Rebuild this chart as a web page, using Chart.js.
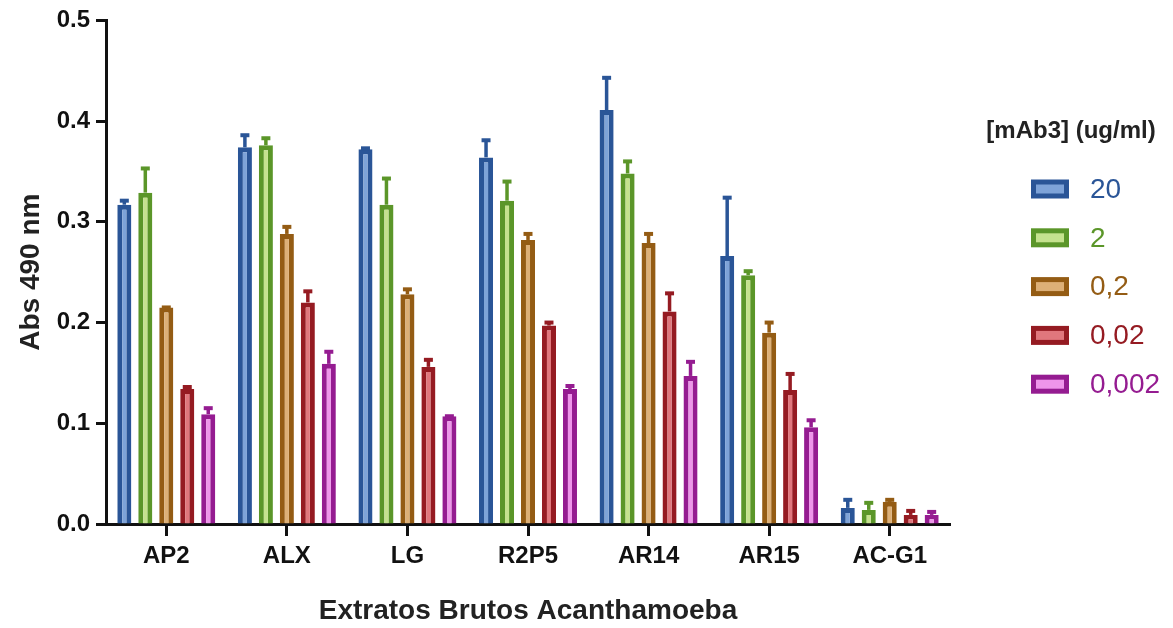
<!DOCTYPE html>
<html>
<head>
<meta charset="utf-8">
<script src="https://cdn.jsdelivr.net/npm/chart.js@4.4.1/dist/chart.umd.min.js"></script>
<style>
  html, body { margin: 0; padding: 0; background: #fff; }
  #wrap { width: 1173px; height: 628px; }
</style>
</head>
<body>
<div id="wrap"><canvas id="chart" width="1173" height="628"></canvas></div>
<script>
const categories = ['AP2', 'ALX', 'LG', 'R2P5', 'AR14', 'AR15', 'AC-G1'];
const seriesNames = ['20', '2', '0,2', '0,02', '0,002'];

// mean absorbance per concentration
const abs20 = [0.317, 0.374, 0.372, 0.364, 0.411, 0.266, 0.016];
const abs2 = [0.329, 0.376, 0.317, 0.321, 0.348, 0.247, 0.014];
const abs02 = [0.215, 0.288, 0.228, 0.282, 0.279, 0.190, 0.022];
const abs002 = [0.134, 0.220, 0.156, 0.197, 0.211, 0.133, 0.009];
const abs0002 = [0.109, 0.159, 0.107, 0.134, 0.147, 0.096, 0.009];

// upper error (SEM)
const err20 = [0.004, 0.012, 0.001, 0.017, 0.032, 0.058, 0.008];
const err2 = [0.024, 0.007, 0.026, 0.019, 0.012, 0.004, 0.007];
const err02 = [0.000, 0.007, 0.005, 0.006, 0.009, 0.010, 0.002];
const err002 = [0.002, 0.011, 0.007, 0.003, 0.018, 0.016, 0.004];
const err0002 = [0.006, 0.012, 0.000, 0.003, 0.014, 0.007, 0.003];

const yTicks = [0, 0.1, 0.2, 0.3, 0.4, 0.5];

const borderColors = ['#2A5597', '#5B9629', '#945C14', '#951B22', '#951C91'];
const fillColors = ['#7EA3D8', '#C5E28E', '#DDB077', '#E0777D', '#EE95EA'];

const values = [abs20, abs2, abs02, abs002, abs0002];
const errors = [err20, err2, err02, err002, err0002];

const FONT = "'Liberation Sans', Arial, Helvetica, sans-serif";

const datasets = seriesNames.map((name, i) => ({
    label: name,
    data: values[i],
    errors: errors[i],
    backgroundColor: fillColors[i],
    borderColor: borderColors[i],
    borderWidth: 5,
    borderSkipped: 'start',
    categoryPercentage: 0.87,
    barPercentage: 0.67
}));

const errorBars = {
    id: 'errorBars',
    afterDatasetsDraw(chart) {
        const ctx = chart.ctx;
        const yScale = chart.scales.y;
        chart.data.datasets.forEach((ds, i) => {
            const meta = chart.getDatasetMeta(i);
            meta.data.forEach((bar, j) => {
                const top = yScale.getPixelForValue(ds.data[j] + ds.errors[j]);
                ctx.save();
                ctx.strokeStyle = ds.borderColor;
                ctx.lineWidth = 3.5;
                ctx.beginPath();
                ctx.moveTo(bar.x, bar.y);
                ctx.lineTo(bar.x, top);
                ctx.stroke();
                ctx.lineWidth = 4;
                ctx.beginPath();
                ctx.moveTo(bar.x - 4.5, top);
                ctx.lineTo(bar.x + 4.5, top);
                ctx.stroke();
                ctx.restore();
            });
        });
    }
};

const sideLegend = {
    id: 'sideLegend',
    afterDraw(chart) {
        const ctx = chart.ctx;
        ctx.save();
        ctx.fillStyle = '#222';
        ctx.font = 'bold 24px ' + FONT;
        ctx.textAlign = 'center';
        ctx.textBaseline = 'middle';
        ctx.fillText('[mAb3] (ug/ml)', 1071, 131);
        ctx.textAlign = 'left';
        ctx.font = '28px ' + FONT;
        chart.data.datasets.forEach((ds, i) => {
            const cy = 189 + i * 48.8;
            ctx.fillStyle = ds.borderColor;
            ctx.fillRect(1031, cy - 9.5, 38, 19);
            ctx.fillStyle = ds.backgroundColor;
            ctx.fillRect(1036, cy - 4.5, 28, 9);
            ctx.fillStyle = ds.borderColor;
            ctx.fillText(ds.label, 1090, cy + 1);
        });
        ctx.restore();
    }
};

new Chart(document.getElementById('chart'), {
    type: 'bar',
    data: { labels: categories, datasets: datasets },
    options: {
        responsive: false,
        animation: false,
        layout: { padding: { left: 0, right: 223, top: 18, bottom: 0 } },
        plugins: {
            legend: { display: false },
            tooltip: { enabled: false }
        },
        scales: {
            x: {
                grid: {
                    display: true,
                    offset: false,
                    drawOnChartArea: false,
                    drawTicks: true,
                    tickLength: 12,
                    tickWidth: 3,
                    tickColor: '#111'
                },
                border: { display: true, color: '#111', width: 3 },
                ticks: {
                    color: '#111',
                    font: { family: FONT, size: 24, weight: 'bold' },
                    padding: 6
                },
                title: {
                    display: true,
                    text: 'Extratos Brutos Acanthamoeba',
                    color: '#222',
                    font: { family: FONT, size: 28, weight: 'bold' },
                    padding: { top: 22, bottom: 0 }
                },
                afterFit(scale) { scale.height = 104; }
            },
            y: {
                min: 0,
                max: 0.5,
                afterBuildTicks(scale) { scale.ticks = yTicks.map(v => ({ value: v })); },
                grid: {
                    display: true,
                    drawOnChartArea: false,
                    drawTicks: true,
                    tickLength: 10,
                    tickWidth: 3,
                    tickColor: '#111'
                },
                border: { display: true, color: '#111', width: 3 },
                ticks: {
                    color: '#111',
                    font: { family: FONT, size: 24, weight: 'bold' },
                    padding: 6,
                    callback: v => Number(v).toFixed(1)
                },
                title: {
                    display: true,
                    text: 'Abs 490 nm',
                    color: '#222',
                    font: { family: FONT, size: 28, weight: 'bold' },
                    padding: { top: 14, bottom: 0 }
                },
                afterFit(scale) { scale.width = 106; }
            }
        }
    },
    plugins: [errorBars, sideLegend]
});
</script>
</body>
</html>
